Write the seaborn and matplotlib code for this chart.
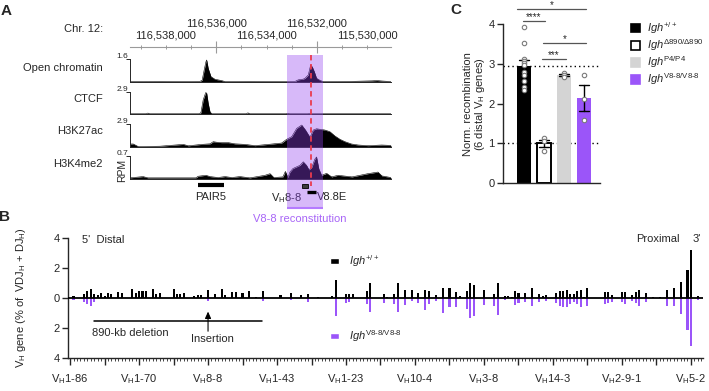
import numpy as np
import pandas as pd
import matplotlib
matplotlib.use('Agg')
import matplotlib.pyplot as plt
from matplotlib.patches import Patch, Rectangle
import seaborn as sns

sns.set_style('ticks')
plt.rcParams['font.family'] = ['Liberation Sans', 'DejaVu Sans']
plt.rcParams['mathtext.fontset'] = 'custom'
plt.rcParams['mathtext.rm'] = 'Liberation Sans'
plt.rcParams['mathtext.it'] = 'Liberation Sans:italic'
plt.rcParams['mathtext.bf'] = 'Liberation Sans:bold'
plt.rcParams['mathtext.default'] = 'regular'
plt.rcParams['axes.linewidth'] = 1.0

W, H = 709, 391
PURPLE = '#9b55f9'

# ---------------- panel A : tracks (x = kb past 116,530,000) ----------------
oc_kb = [9.43, 8.24, 7.24, 6.65, 6.56, 6.48, 6.41, 6.38, 6.32, 6.21, 6.05, 5.79, 5.65, 4.66, 3.47, 2.87,
         2.74, 2.54, 2.47, 2.34, 2.27, 2.25, 2.18, 2.10, 2.01, 1.88, 1.75, 0.68, -0.19, -0.39, -0.59, -0.95]
oc_val = [0.03, 0.04, 0.03, 0.04, 0.13, 0.84, 1.41, 1.53, 0.95, 0.37, 0.19, 0.10, 0.03, 0.04, 0.03, 0.04,
          0.15, 0.20, 0.26, 0.49, 1.00, 1.18, 1.05, 0.72, 0.26, 0.12, 0.03, 0.04, 0.08, 0.10, 0.07, 0.03]

ctcf_kb = [9.43, 8.80, 8.72, 8.64, 6.69, 6.61, 6.52, 6.42, 6.38, 6.32, 6.25, 6.18, 4.82, 4.74, 4.66,
           3.23, 3.15, 3.07, 2.35, 2.27, 2.19, -0.95]
ctcf_val = [0.03, 0.03, 0.12, 0.03, 0.03, 0.17, 1.85, 2.82, 2.75, 1.41, 0.30, 0.03, 0.03, 0.15, 0.03,
            0.03, 0.10, 0.03, 0.03, 0.10, 0.03, 0.03]

k27_kb = [9.43, 9.30, 9.10, 8.24, 7.31, 7.11, 6.58, 6.25, 6.12, 5.98, 5.79, 5.52, 5.26, 4.86, 4.46, 3.93,
          3.40, 3.20, 3.00, 2.80, 2.60, 2.45, 2.27, 2.14, 2.01, 1.81, 1.68, 1.48, 1.28, 1.08, 0.88, 0.62,
          0.35, -0.04, -0.58, -0.95]
k27_val = [0.38, 0.38, 0.05, 0.10, 0.33, 0.15, 0.33, 0.40, 0.67, 0.60, 0.55, 0.55, 0.40, 0.33, 0.17, 0.33,
           0.50, 0.97, 1.30, 2.35, 2.77, 2.14, 1.22, 2.14, 2.30, 2.20, 2.14, 1.93, 1.39, 0.97, 0.67, 0.38,
           0.25, 0.17, 0.25, 0.20]

k4_kb = [9.43, 8.91, 8.72, 6.81, 6.72, 6.41, 6.25, 5.93, 5.65, 5.38, 5.06, 4.66, 4.06, 3.86, 3.71, 3.35,
         3.25, 3.15, 3.07, 2.95, 2.67, 2.54, 2.41, 2.31, 2.20, 2.08, 2.01, 1.92, 1.81, 1.61, 1.41, 1.16,
         0.60, -0.03, -0.43, -0.59, -0.95]
k4_val = [0.02, 0.06, 0.02, 0.02, 0.07, 0.10, 0.06, 0.03, 0.06, 0.03, 0.06, 0.02, 0.10, 0.15, 0.03, 0.05,
          0.22, 0.03, 0.20, 0.31, 0.41, 0.52, 0.41, 0.27, 0.35, 0.60, 0.67, 0.30, 0.10, 0.16, 0.05, 0.10,
          0.05, 0.15, 0.20, 0.08, 0.03]

track_names = ['Open chromatin', 'CTCF', 'H3K27ac', 'H3K4me2']
track_max = [1.6, 2.9, 2.9, 0.7]

# ---------------- panel B : VH usage ----------------
gene_pos = [1, 4, 5, 6, 7, 8, 9, 10, 11, 12, 14, 15, 18, 19, 20, 21, 22, 24, 25, 26, 30, 31, 32, 33, 36,
            37, 38, 40, 42, 44, 45, 47, 48, 50, 52, 54, 56, 61, 64, 67, 69, 72, 76, 77, 80, 81, 82, 84,
            86, 87, 91, 92, 94, 95, 97, 99, 101, 103, 104, 106, 108, 110, 112, 113, 115, 116, 117, 120,
            123, 124, 126, 127, 128, 129, 130, 132, 134, 136, 137, 138, 141, 142, 143, 144, 145, 146,
            147, 148, 149, 150, 155, 156, 157, 160, 161, 163, 164, 165, 167, 169, 171, 173, 175, 177,
            179, 180, 182]
wt_usage = [0.12, 0.30, 0.50, 0.60, 0.25, 0.22, 0.33, 0.15, 0.35, 0.30, 0.40, 0.35, 0.62, 0.33, 0.45,
            0.45, 0.45, 0.58, 0.30, 0.33, 0.62, 0.30, 0.30, 0.33, 0.15, 0.20, 0.20, 0.56, 0.30, 0.58,
            0.20, 0.38, 0.38, 0.33, 0.45, 0.05, 0.45, 0.20, 0.33, 0.20, 0.27, 0.05, 0.15, 1.20, 0.30,
            0.30, 0.30, 0.03, 0.50, 0.98, 0.30, 0.05, 0.27, 0.98, 0.53, 0.53, 0.33, 0.53, 0.45, 0.20,
            0.70, 0.70, 0.42, 0.15, 0.45, 1.02, 0.87, 0.55, 0.30, 0.98, 0.15, 0.15, 0.05, 0.50, 0.33,
            0.33, 0.67, 0.30, 0.15, 0.20, 0.33, 0.45, 0.50, 0.55, 0.27, 0.27, 0.45, 0.55, 0.05, 0.65,
            0.42, 0.42, 0.22, 0.38, 0.42, 0.20, 0.38, 0.53, 0.33, 0.05, 0.10, 0.55, 0.65, 1.10, 1.87,
            3.20, 0.15]
v88_usage = [-0.10, -0.27, -0.40, -0.55, -0.27, 0, 0, 0, 0, 0, 0, 0, 0, 0, 0, 0, 0, 0, 0, 0, 0, 0, 0, 0,
             0, 0, 0, -0.22, 0, 0, 0, 0, 0, 0, 0, 0, -0.20, 0, -0.15, 0, -0.25, 0, 0, -1.18, -0.30,
             -0.25, 0, 0, -0.40, -0.95, -0.35, 0, -0.40, -0.95, -0.45, -0.22, -0.35, -0.80, -0.40, -0.18,
             -1.02, -0.62, -0.58, 0, -0.73, -1.33, -1.18, -0.45, -0.50, -1.10, -0.13, 0, 0, -0.47, -0.30,
             -0.25, -0.50, -0.25, 0, -0.18, -0.30, -0.50, -0.62, -0.62, -0.40, -0.25, -0.40, -0.58, 0,
             -0.50, -0.40, -0.30, -0.25, -0.25, -0.40, -0.18, -0.35, -0.50, -0.25, 0, 0, -0.50, -0.55,
             -1.07, -2.10, -3.20, -0.13]
gene_labels = ['1-86', '1-70', '8-8', '1-43', '1-23', '10-4', '3-8', '14-3', '2-9-1', '5-2']

# ---------------- panel C : normalised recombination ----------------
geno_order = ['wt', 'd890', 'p4', 'v88']
geno_labels = [r'$\mathit{Igh}^{+/+}$', r'$\mathit{Igh}^{\Delta 890/\Delta 890}$',
               r'$\mathit{Igh}^{P4/P4}$', r'$\mathit{Igh}^{\text{V8-8/V8-8}}$']
geno_colors = ['black', 'white', '#d4d4d4', PURPLE]
rec_wt = [3.93, 3.52, 3.12, 3.07, 3.02, 2.97, 2.80, 2.72, 2.57, 2.42, 2.35]
rec_d890 = [1.13, 1.05, 0.82]
rec_p4 = [2.78, 2.72, 2.68]
rec_v88 = [2.72, 2.12, 1.58]

dfc = pd.DataFrame({
    'genotype': ['wt'] * len(rec_wt) + ['d890'] * len(rec_d890) + ['p4'] * len(rec_p4) + ['v88'] * len(rec_v88),
    'value': rec_wt + rec_d890 + rec_p4 + rec_v88,
})


def px_axes(l, t, r, b):
    return fig.add_axes([l / W, 1 - b / H, (r - l) / W, (b - t) / H])


def ptext(x, y, s, **kw):
    return fig.text(x / W, 1 - y / H, s, **kw)


fig = plt.figure(figsize=(W / 100, H / 100), dpi=100)

# ================= A =================
kb_lim = (9.43, -0.95)
track_data = [(oc_kb, oc_val), (ctcf_kb, ctcf_val), (k27_kb, k27_val), (k4_kb, k4_val)]
track_px = [(59, 82), (92, 114), (124, 147), (156, 178.5)]
name_y = [68, 99, 131, 164]
for (kb, val), (top, base), name, ymax, ny in zip(track_data, track_px, track_names, track_max, name_y):
    ax = px_axes(130, top, 391, base)
    ax.fill_between(kb, val, 0, color='black', lw=0)
    sns.lineplot(x=kb, y=val, color='black', lw=0.4, ax=ax)
    ax.set_xlim(*kb_lim)
    ax.set_ylim(0, ymax)
    ax.set_xticks([])
    ax.set_yticks([ymax])
    ax.set_yticklabels([])
    ax.tick_params(axis='y', length=3, width=0.7)
    ax.set_xlabel('')
    ax.set_ylabel('')
    sns.despine(ax=ax)
    for s in ['left', 'bottom']:
        ax.spines[s].set_linewidth(0.7)
    ax.patch.set_alpha(0)
    ptext(103, ny, name, ha='right', va='center', fontsize=8)
    ptext(128, top - 2.5, f'{ymax}', ha='right', va='center', fontsize=6)
ptext(122, 170, 'RPM', rotation=90, ha='center', va='center', fontsize=7.5)

# genomic coordinate ruler
axc = px_axes(130, 37, 391, 47)
axc.set_xlim(*kb_lim)
axc.set_ylim(0, 1)
for s in ['left', 'right', 'top']:
    axc.spines[s].set_visible(False)
axc.spines['bottom'].set_color('#9a9a9a')
axc.spines['bottom'].set_linewidth(0.8)
axc.set_yticks([])
axc.set_xticks([6, 2])
axc.set_xticklabels([])
axc.set_xticks([9, 8, 7, 5, 4, 3, 1, 0], minor=True)
axc.tick_params(axis='x', which='major', direction='inout', length=8, width=0.8, color='#9a9a9a')
axc.tick_params(axis='x', which='minor', direction='inout', length=3, width=0.7, color='#9a9a9a')
axc.patch.set_alpha(0)
ptext(103, 29, 'Chr. 12:', ha='right', va='center', fontsize=8)
for kb, lab in [(6, '116,536,000'), (2, '116,532,000')]:
    ptext(166 + (8 - kb) / 0.03976, 24, lab, ha='center', va='center', fontsize=8)
for kb, lab in [(8, '116,538,000'), (4, '116,534,000'), (0, '115,530,000')]:
    ptext(166 + (8 - kb) / 0.03976, 36, lab, ha='center', va='center', fontsize=8)

# overlay for shading and annotations (y in pixels from top)
axo = px_axes(130, 0, 391, 230)
axo.set_xlim(*kb_lim)
axo.set_ylim(230, 0)
axo.axis('off')
axo.set_zorder(10)
axo.fill_betweenx([55, 208], 3.19, 1.76, color='#9343f1', alpha=0.37, lw=0)
axo.plot([2.235, 2.235], [55, 186], color='#ea3b4f', lw=1.3, ls=(0, (3, 2)))
axo.plot([6.73, 5.69], [185, 185], color='black', lw=3.0, solid_capstyle='butt')
axo.add_patch(Rectangle((2.59, 184), 2.35 - 2.59, 4, facecolor='#3c3c3c', edgecolor='black', lw=0.6))
axo.plot([2.39, 2.04], [191.5, 191.5], color='black', lw=2.4, solid_capstyle='butt')
axo.plot([3.19, 1.76], [208, 208], color='#b57bff', lw=1.5, solid_capstyle='butt')
ptext(211, 197, 'PAIR5', ha='center', va='center', fontsize=8)
ptext(302, 198, r'V$_\mathrm{H}$8-8', ha='right', va='center', fontsize=8)
ptext(317, 197, 'V8.8E', ha='left', va='center', fontsize=8)
ptext(300, 219, 'V8-8 reconstitution', ha='center', va='center', fontsize=8, color='#a866f7')

# ================= B =================
axB = px_axes(68, 238, 703, 358)
sns.barplot(x=gene_pos, y=wt_usage, native_scale=True, color='black', width=0.6, errorbar=None,
            linewidth=0, saturation=1, ax=axB)
sns.barplot(x=gene_pos, y=v88_usage, native_scale=True, color=PURPLE, width=0.6, errorbar=None,
            linewidth=0, saturation=1, ax=axB)
axB.axhline(0, color='black', lw=1.3, zorder=3)
axB.set_xlim(-0.6, 183.5)
axB.set_ylim(-4, 4)
axB.set_yticks([-4, -2, 0, 2, 4])
axB.set_yticklabels(['4', '2', '0', '2', '4'], fontsize=8)
axB.set_xticks(np.arange(0, 181, 10))
axB.set_xticklabels([r'V$_\mathrm{H}$' + gene_labels[i // 2] if i % 2 == 0 else '' for i in range(19)],
                    fontsize=8)
axB.set_xticks(np.arange(0, 184), minor=True)
axB.tick_params(axis='x', which='major', length=5, width=1.0, pad=5)
axB.tick_params(axis='x', which='minor', length=2.5, width=0.6)
axB.tick_params(axis='y', length=4, width=1.0, pad=2)
sns.despine(ax=axB)
axB.set_ylabel(r'V$_\mathrm{H}$ gene (% of  VDJ$_\mathrm{H}$ + DJ$_\mathrm{H}$)', fontsize=8)
axB.yaxis.set_label_coords(-0.063, 0.5)
axB.text(3.5, 3.87, "5'  Distal", ha='left', va='center', fontsize=8)
axB.text(176.8, 3.9, 'Proximal', ha='right', va='center', fontsize=8)
axB.text(181.8, 3.9, "3'", ha='center', va='center', fontsize=8)
axB.plot([7, 55.7], [-1.53, -1.53], color='black', lw=1.1)
axB.text(6.4, -2.33, '890-kb deletion', ha='left', va='center', fontsize=8)
axB.annotate('', xy=(40, -0.72), xytext=(40, -2.4),
             arrowprops=dict(arrowstyle='-|>,head_length=0.4,head_width=0.18', color='black', lw=0.8))
axB.text(41.2, -2.75, 'Insertion', ha='center', va='center', fontsize=8)

legB1 = axB.legend([Patch(facecolor='black')], [r'$\mathit{Igh}^{+/+}$'], loc='center left',
                   bbox_to_anchor=(75.4, 2.45), bbox_transform=axB.transData, frameon=False,
                   handlelength=0.8, handleheight=0.4, handletextpad=0.9, borderpad=0, borderaxespad=0,
                   fontsize=8)
axB.add_artist(legB1)
axB.legend([Patch(facecolor=PURPLE)], [r'$\mathit{Igh}^{\text{V8-8/V8-8}}$'], loc='center left',
           bbox_to_anchor=(75.4, -2.55), bbox_transform=axB.transData, frameon=False,
           handlelength=0.8, handleheight=0.4, handletextpad=0.9, borderpad=0, borderaxespad=0,
           fontsize=8)

# ================= C =================
axC = px_axes(503, 24, 600, 183.3)
axC.axhline(2.95, color='black', lw=1.0, ls=(0, (1, 2.2)), zorder=0.5)
axC.axhline(1.0, color='black', lw=1.0, ls=(0, (1, 2.2)), zorder=0.5)
sns.barplot(data=dfc, x='genotype', y='value', hue='genotype', order=geno_order, hue_order=geno_order,
            palette=dict(zip(geno_order, geno_colors)), errorbar='se', capsize=0.5,
            err_kws={'color': 'black', 'linewidth': 1.0}, width=0.68, saturation=1, linewidth=0,
            legend=False, ax=axC)
for p in axC.patches:
    if tuple(np.round(p.get_facecolor()[:3], 2)) == (1.0, 1.0, 1.0):
        p.set_edgecolor('black')
        p.set_linewidth(1.4)
sns.stripplot(data=dfc, x='genotype', y='value', order=geno_order, jitter=False, color='white',
              edgecolor='#7a7a7a', linewidth=0.8, size=3.2, ax=axC, zorder=4)
axC.set_xlim(-1.05, 3.8)
axC.set_ylim(0, 4)
axC.set_yticks([0, 1, 2, 3, 4])
axC.tick_params(axis='y', labelsize=8, length=4, width=1.0, pad=2)
axC.set_xticks([])
axC.set_xlabel('')
sns.despine(ax=axC)
axC.set_ylabel('Norm. recombination\n' + r'(6 distal V$_\mathrm{H}$ genes)', fontsize=8, linespacing=1.0)
axC.yaxis.set_label_coords(-0.165, 0.5)

brackets = [(-0.37, 3.1, 4.38, '*'), (-0.07, 1.05, 4.08, '****'), (0.94, 3.1, 3.52, '*'), (0.89, 2.1, 3.11, '***')]
for x0, x1, yb, stars in brackets:
    axC.plot([x0, x1], [yb, yb], color='#555555', lw=0.9, clip_on=False)
    axC.text((x0 + x1) / 2, yb + 0.03, stars, ha='center', va='baseline', fontsize=7, clip_on=False)

handles = [Patch(facecolor=c, edgecolor='black' if c == 'white' else c, linewidth=1.2) for c in geno_colors]
fig.legend(handles, geno_labels, loc='upper left', bbox_to_anchor=(631 / W, 1 - 20 / H), frameon=False,
           handlelength=0.85, handleheight=0.85, handletextpad=0.6, labelspacing=0.12, fontsize=8,
           borderpad=0, borderaxespad=0)

ptext(6, 11, 'A', ha='center', va='center', fontsize=11, fontweight='bold')
ptext(4, 217, 'B', ha='center', va='center', fontsize=11, fontweight='bold')
ptext(456, 10, 'C', ha='center', va='center', fontsize=11, fontweight='bold')

fig.savefig('out.png', dpi=100)
